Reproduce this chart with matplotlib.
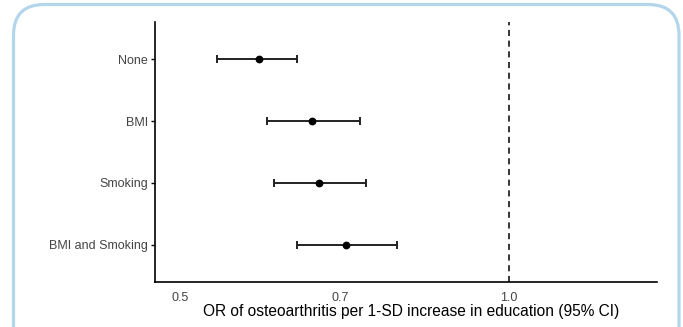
import numpy as np
import matplotlib.pyplot as plt
from matplotlib.patches import FancyBboxPatch

plt.rcParams['font.family'] = ['Liberation Sans', 'DejaVu Sans']

# Data
adjustments = ["None", "BMI", "Smoking", "BMI and Smoking"]
odds_ratio = [0.59, 0.66, 0.67, 0.71]
ci_low = [0.54, 0.60, 0.61, 0.64]
ci_high = [0.64, 0.73, 0.74, 0.79]
xticks = [0.5, 0.7, 1.0]
xtick_labels = ["0.5", "0.7", "1.0"]

fig = plt.figure(figsize=(6.83, 3.27), dpi=100)

# rounded light blue frame
frame = FancyBboxPatch((13.5 / 683, -0.2), (679 - 13.5) / 683, 1.2 - 4.5 / 327,
                       boxstyle="round,pad=0,rounding_size=0.045",
                       transform=fig.transFigure, facecolor="none",
                       edgecolor="#b4d6ea", linewidth=2.3, mutation_aspect=683 / 327,
                       zorder=-1)
fig.patches.append(frame)

ax = fig.add_axes([155 / 683, (327 - 282) / 327, (657 - 155) / 683, (282 - 22) / 327])
ax.set_facecolor("none")
ax.set_zorder(2)

ypos = np.arange(len(adjustments))[::-1]
orr = np.array(odds_ratio)
xerr = [orr - np.array(ci_low), np.array(ci_high) - orr]
ax.errorbar(orr, ypos, xerr=xerr, fmt="o", color="black", ecolor="#222222",
            markersize=4.6, elinewidth=1.4, capsize=2.8, capthick=1.4)

ax.axvline(1.0, color="black", linestyle=(0, (4, 3)), linewidth=1.1)

ax.set_xscale("log")
ax.set_xlim(np.exp((155 - 509) / 474.6), np.exp((657 - 509) / 474.6))
ax.set_ylim(-0.6, len(adjustments) - 0.4)
ax.set_xticks(xticks)
ax.set_xticklabels(xtick_labels)
ax.xaxis.set_minor_locator(plt.NullLocator())
ax.set_yticks(ypos)
ax.set_yticklabels(adjustments)

ax.tick_params(axis="x", length=0, pad=7, labelsize=9, labelcolor="#444444")
ax.tick_params(axis="y", length=3, width=1, pad=2, labelsize=9, labelcolor="#444444")

for side in ["top", "right"]:
    ax.spines[side].set_visible(False)
for side in ["left", "bottom"]:
    ax.spines[side].set_linewidth(1.2)

ax.set_xlabel("OR of osteoarthritis per 1-SD increase in education (95% CI)",
              fontsize=11.2, labelpad=1)
ax.xaxis.set_label_coords(0.511, -0.085)

fig.savefig("out.png", dpi=100)
